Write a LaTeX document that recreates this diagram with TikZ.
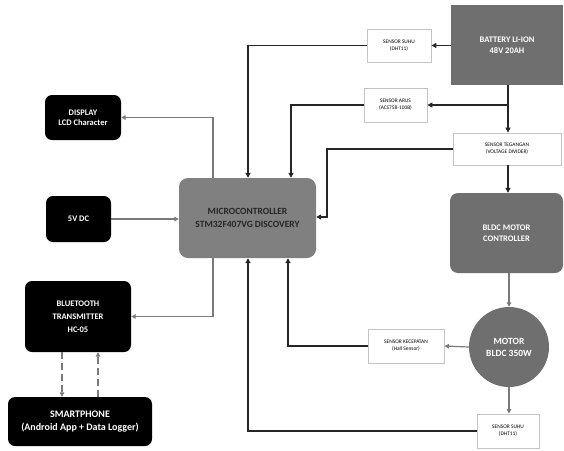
\documentclass[tikz,border=0pt]{standalone}
\usepackage{fontspec}
\setmainfont{Carlito}
\usetikzlibrary{arrows.meta,shapes.geometric}
\definecolor{darkbox}{HTML}{6F6F6F}
\definecolor{midbox}{HTML}{808080}
\definecolor{linegray}{HTML}{7A7A7A}
\definecolor{sensorborder}{HTML}{C4C4C4}
\tikzset{
  block/.style={draw=none, rectangle, align=center, font=\bfseries\fontsize{8.5}{10.5}\selectfont, inner sep=0pt},
  darkblock/.style={block, fill=darkbox, text=white},
  blackblock/.style={block, fill=black, text=white, rounded corners=7pt},
  sensorbox/.style={draw=sensorborder, line width=0.8pt, fill=white, rectangle, align=center, inner sep=0pt, font=\fontsize{5.4}{7}\selectfont},
  sig/.style={line width=1.6pt, draw=black!85, -{Triangle[length=5pt,width=5pt]}},
  aux/.style={line width=1.2pt, draw=linegray, -{Triangle[length=4.5pt,width=4.5pt]}},
  link/.style={line width=1.1pt, draw=linegray, dash pattern=on 7pt off 4pt, -{Triangle[length=4.5pt,width=4.5pt]}}
}
\begin{document}
\begin{tikzpicture}[x=1pt,y=-1pt]
\useasboundingbox (0,0) rectangle (564,450);
\fill[white] (0,0) rectangle (564,450);

% power and sensing chain
\node[darkblock, minimum width=112pt, minimum height=80pt] (bat) at (507,45) {BATTERY LI-ION\\48V 20AH};
\node[sensorbox, minimum width=64pt, minimum height=33pt] (suhuA) at (399,45.5) {SENSOR SUHU\\(DHT11)};
\node[sensorbox, minimum width=63pt, minimum height=34pt] (arus) at (395.5,105) {SENSOR ARUS\\(ACS758-100B)};
\node[sensorbox, minimum width=108pt, minimum height=32pt] (tegangan) at (507,149) {SENSOR TEGANGAN\\(VOLTAGE DIVIDER)};
\node[darkblock, rounded corners=8pt, minimum width=113pt, minimum height=80pt] (ctrl) at (506.5,233) {BLDC MOTOR\\CONTROLLER};
\node[circle, fill=darkbox, minimum size=80pt, inner sep=0pt, align=center, text=white, font=\bfseries\fontsize{9.5}{12}\selectfont] (motor) at (509,347) {MOTOR\\BLDC 350W};
\node[sensorbox, minimum width=76pt, minimum height=34pt] (kecepatan) at (406,346) {SENSOR KECEPATAN\\(Hall Sensor)};
\node[sensorbox, minimum width=62pt, minimum height=34pt] (suhuB) at (508,431) {SENSOR SUHU\\(DHT11)};

% controller and peripherals
\node[block, fill=midbox, text=black!85, rounded corners=9pt, minimum width=137pt, minimum height=80pt, font=\bfseries\fontsize{9.5}{13}\selectfont] (mcu) at (247.5,218) {MICROCONTROLLER\\STM32F407VG DISCOVERY};
\node[blackblock, minimum width=76pt, minimum height=45pt] (lcd) at (83,117.5) {DISPLAY\\LCD Character};
\node[blackblock, minimum width=65pt, minimum height=46pt] (vdc) at (78.5,219) {5V DC};
\node[blackblock, minimum width=106pt, minimum height=71pt, font=\bfseries\fontsize{8.5}{13}\selectfont] (bt) at (78,316.5) {BLUETOOTH\\TRANSMITTER\\HC-05};
\node[blackblock, minimum width=144pt, minimum height=49pt, font=\bfseries\fontsize{10}{13}\selectfont] (phone) at (80,421.5) {SMARTPHONE\\(Android App + Data Logger)};

% turning points of the routed connectors
\coordinate (tap) at (508,105);

% battery side
\draw[sig] (bat.west |- suhuA.east) -- (suhuA.east);
\draw[sig] (suhuA.west) -| (248,0 |- mcu.north);
\draw[sig] (bat.south -| tap) -- (tegangan.north -| tap);
\draw[sig] (tap) -- (arus.east);
\draw[sig] (arus.west) -| (291,0 |- mcu.north);
\draw[sig] (tegangan.west) -| (327,217) -- (mcu.east |- 0,217);
\draw[sig] (tegangan.south -| tap) -- (ctrl.north -| tap);

% motor side
\draw[aux] (ctrl.south -| motor.north) -- (motor.north);
\draw[aux] (motor.west) -- (kecepatan.east);
\draw[aux] (motor.south) -- (suhuB.north -| motor.south);
\draw[sig] (kecepatan.west) -| (288,0 |- mcu.south);
\draw[sig] (suhuB.west) -| (248,0 |- mcu.south);

% peripherals
\draw[aux] (213,0 |- mcu.north) |- (lcd.east);
\draw[aux] (vdc.east) -- (mcu.west |- vdc.east);
\draw[aux] (213,0 |- mcu.south) |- (bt.east);
\draw[link] (62,0 |- bt.south) -- (62,0 |- phone.north);
\draw[link] (98,0 |- phone.north) -- (98,0 |- bt.south);
\end{tikzpicture}
\end{document}
